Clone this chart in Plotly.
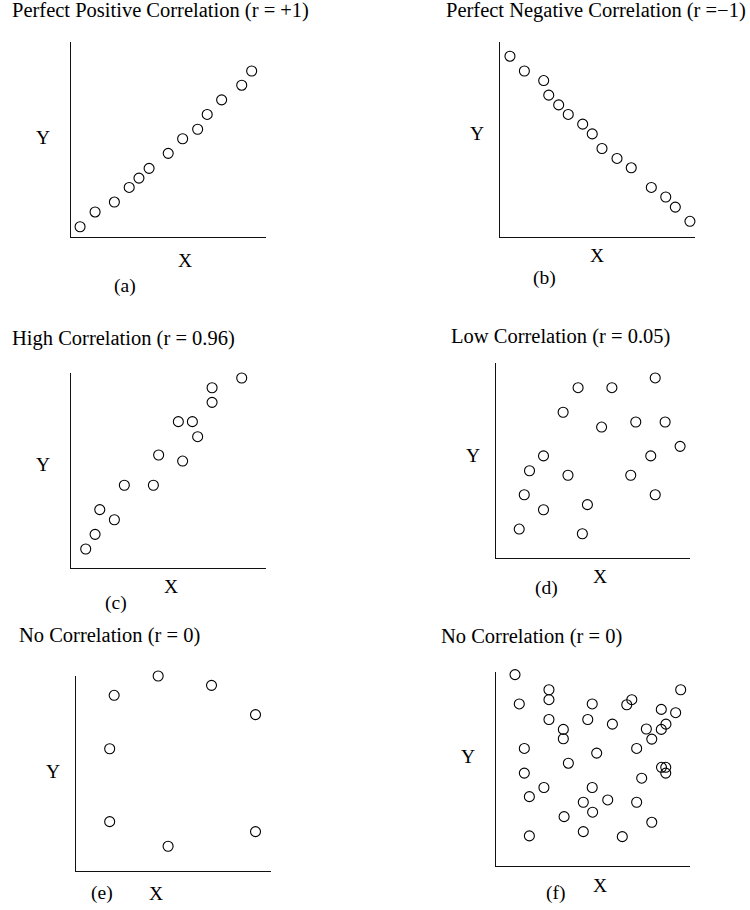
import plotly.graph_objects as go

# ---- data (arbitrary units, axes run 0..10) ----
a_x = [0.48, 1.25, 2.24, 3.00, 3.50, 4.02, 5.00, 5.74, 6.51, 7.00, 7.74, 8.77, 9.28]
a_y = [0.51, 1.27, 1.78, 2.53, 3.01, 3.51, 4.28, 5.03, 5.52, 6.28, 7.03, 7.78, 8.51]

b_x = [0.51, 1.25, 2.24, 2.50, 3.01, 3.50, 4.24, 4.73, 5.23, 6.00, 6.73, 7.76, 8.50, 8.99, 9.74]
b_y = [9.27, 8.51, 8.02, 7.27, 6.77, 6.28, 5.78, 5.28, 4.53, 4.02, 3.54, 2.53, 2.04, 1.52, 0.79]

c_x = [0.77, 1.25, 2.24, 1.49, 2.75, 4.24, 4.51, 5.74, 5.52, 6.24, 6.51, 7.25, 7.25, 8.77]
c_y = [0.99, 1.74, 2.49, 3.01, 4.26, 4.26, 5.81, 5.50, 7.52, 7.52, 6.75, 8.51, 9.26, 9.76]

d_x = [1.21, 4.46, 2.46, 4.72, 1.47, 8.21, 1.74, 3.72, 6.95, 2.46,
       7.98, 9.49, 3.47, 5.45, 7.21, 8.72, 4.24, 5.98, 8.21, 10.22]
d_y = [1.50, 1.26, 2.49, 2.75, 3.26, 3.26, 4.49, 4.26, 4.26, 5.25,
       5.25, 5.74, 7.49, 6.73, 6.99, 6.99, 8.75, 8.75, 9.25, 8.75]

e_x = [1.96, 4.22, 6.96, 9.22, 1.73, 10.21, 1.73, 9.22, 4.73]
e_y = [9.01, 10.00, 9.52, 8.02, 6.27, 6.04, 2.53, 2.02, 1.27]

f_x = [0.98, 5.48, 2.73, 2.73, 9.52, 1.20, 4.96, 6.74, 7.00, 8.52,
       9.26, 2.73, 4.73, 6.00, 3.47, 3.47, 7.75, 8.52, 8.76, 8.03,
       10.53, 1.46, 5.19, 7.25, 3.73, 8.53, 8.75, 8.75, 1.46, 7.51,
       2.47, 4.96, 1.72, 10.04, 10.04, 4.50, 5.76, 7.25, 4.98, 3.51,
       8.03, 4.50, 1.72, 6.51]
f_y = [9.85, 10.07, 9.07, 8.56, 9.07, 8.34, 8.34, 8.30, 8.56, 8.06,
       7.89, 7.54, 7.54, 7.30, 7.03, 6.55, 7.05, 7.03, 7.30, 6.53,
       6.80, 6.05, 5.81, 6.05, 5.29, 5.08, 5.08, 4.78, 4.78, 4.52,
       4.04, 4.04, 3.57, 3.52, 3.03, 3.28, 3.40, 3.28, 2.77, 2.54,
       2.25, 1.77, 1.55, 1.51]

titles = ["Perfect Positive Correlation (r = +1)", "Perfect Negative Correlation (r =\u22121)",
          "High Correlation (r = 0.96)", "Low Correlation (r = 0.05)",
          "No Correlation (r = 0)", "No Correlation (r = 0)"]
tags = ["(a)", "(b)", "(c)", "(d)", "(e)", "(f)"]

series = [(a_x, a_y), (b_x, b_y), (c_x, c_y), (d_x, d_y), (e_x, e_y), (f_x, f_y)]

# ---- layout geometry (pixels) ----
W, H = 750, 910
boxes = [  # x0, x1, ytop, ybottom
    (70.7, 265.7, 42.0, 236.7),
    (500.0, 695.0, 42.0, 236.7),
    (70.7, 265.7, 373.3, 568.3),
    (495.7, 690.0, 363.3, 558.3),
    (76.0, 270.7, 676.0, 871.0),
    (496.0, 690.0, 671.7, 866.0),
]
title_pos = [(10.0, 10.5), (444.2, 11.0), (10.2, 338.0), (449.2, 336.7), (16.5, 635.0), (439.2, 636.7)]
ylab_pos = [(43.3, 137.7), (477.3, 133.3), (43.3, 465.0), (472.7, 455.0), (52.7, 771.7), (468.3, 756.7)]
xlab_pos = [(185.0, 260.0), (596.7, 255.0), (170.7, 586.7), (600.0, 576.7), (156.0, 893.3), (600.0, 885.0)]
tag_pos = [(125.0, 286.0), (544.0, 278.3), (116.0, 603.3), (546.0, 588.3), (101.7, 893.3), (555.0, 893.3)]

FAM = "Liberation Serif, Times New Roman, serif"
TITLE_FONT = dict(family=FAM, size=20.5, color="black")
LABEL_FONT = dict(family=FAM, size=19.5, color="black")

fig = go.Figure()
layout = dict(width=W, height=H, margin=dict(l=0, r=0, t=0, b=0),
              paper_bgcolor="white", plot_bgcolor="white", showlegend=False)
annotations = []

def px(x):
    return x / W

def py(y):
    return 1 - y / H

for i, ((xs, ys), (x0, x1, yt, yb)) in enumerate(zip(series, boxes)):
    n = i + 1
    xa = "x" if n == 1 else f"x{n}"
    ya = "y" if n == 1 else f"y{n}"
    fig.add_trace(go.Scatter(
        x=xs, y=ys, mode="markers", xaxis=xa, yaxis=ya, cliponaxis=False,
        marker=dict(symbol="circle-open", size=10, color="black", line=dict(width=1.1, color="black")),
        hoverinfo="skip"))
    axcommon = dict(showline=True, linecolor="#111", linewidth=1.3, showgrid=False,
                    zeroline=False, showticklabels=False, ticks="", range=[0, 10], fixedrange=True)
    layout["xaxis" if n == 1 else f"xaxis{n}"] = dict(axcommon, domain=[px(x0), px(x1)], anchor=ya)
    layout["yaxis" if n == 1 else f"yaxis{n}"] = dict(axcommon, domain=[py(yb), py(yt)], anchor=xa)

    tx, ty = title_pos[i]
    annotations.append(dict(text=titles[i], x=px(tx), y=py(ty), xref="paper", yref="paper",
                            xanchor="left", yanchor="middle", showarrow=False, font=TITLE_FONT))
    for (lx, ly), txt in [(ylab_pos[i], "Y"), (xlab_pos[i], "X"), (tag_pos[i], tags[i])]:
        annotations.append(dict(text=txt, x=px(lx), y=py(ly), xref="paper", yref="paper",
                                xanchor="center", yanchor="middle", showarrow=False, font=LABEL_FONT))

layout["annotations"] = annotations
fig.update_layout(**layout)
fig.write_html("out.html")
